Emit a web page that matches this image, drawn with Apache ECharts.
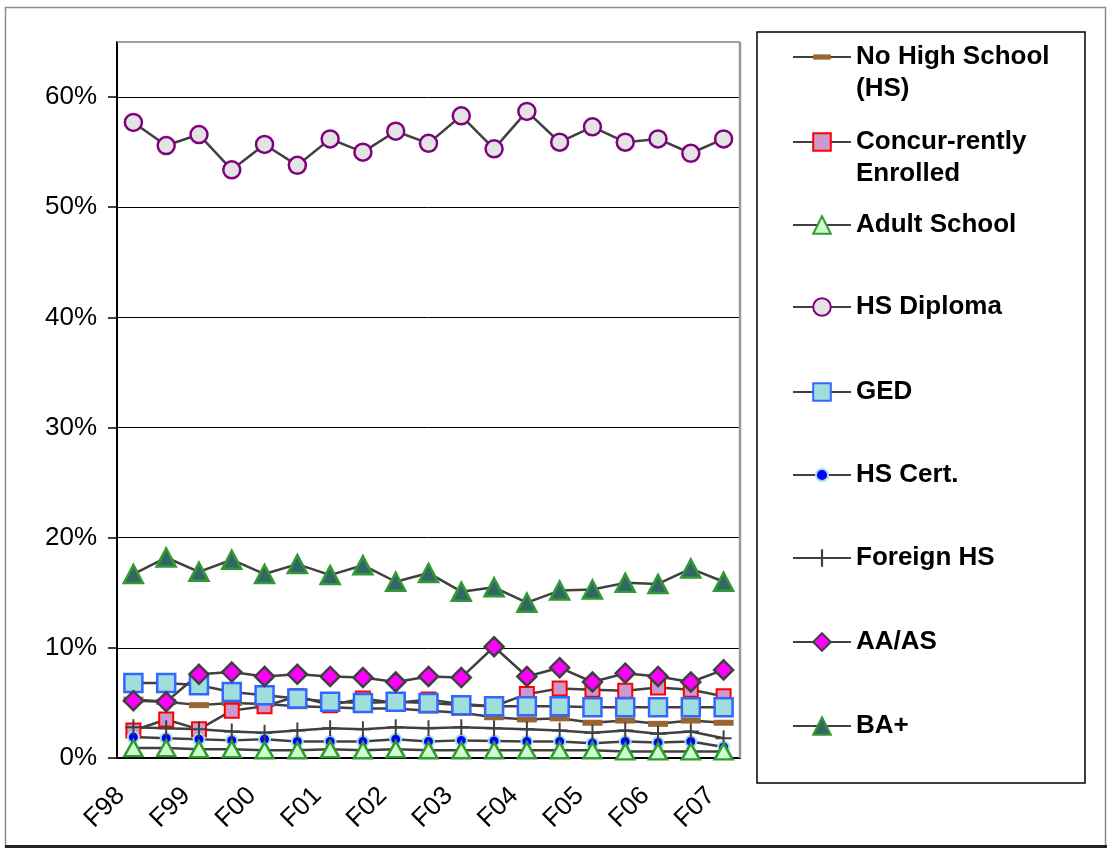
<!DOCTYPE html>
<html>
<head>
<meta charset="utf-8">
<script src="https://cdn.jsdelivr.net/npm/echarts@6/dist/echarts.min.js"></script>
<style>
html, body { margin: 0; padding: 0; background: #fff; }
#chart { width: 1109px; height: 850px; }
</style>
</head>
<body>
<div id="chart"></div>
<script>
// terms: fall / spring, only the fall ones get a label
var terms = ['F98', 'S99', 'F99', 'S00', 'F00', 'S01', 'F01', 'S02', 'F02', 'S03',
             'F03', 'S04', 'F04', 'S05', 'F05', 'S06', 'F06', 'S07', 'F07'];

var noHighSchool = [5.3, 5.1, 4.8, 5.0, 4.9, 4.7, 4.6, 4.5, 4.5, 4.3, 4.1, 3.7, 3.5, 3.6, 3.2, 3.4, 3.1, 3.4, 3.2];
var concurrent   = [2.5, 3.5, 2.6, 4.3, 4.7, 5.6, 4.8, 5.4, 5.0, 5.3, 4.9, 4.7, 5.8, 6.3, 6.2, 6.1, 6.4, 6.2, 5.6];
var adultSchool  = [0.9, 0.9, 0.8, 0.8, 0.7, 0.7, 0.8, 0.7, 0.8, 0.7, 0.7, 0.7, 0.7, 0.7, 0.7, 0.6, 0.6, 0.6, 0.6];
var hsDiploma    = [57.7, 55.6, 56.6, 53.4, 55.7, 53.8, 56.2, 55.0, 56.9, 55.8, 58.3, 55.3, 58.7, 55.9, 57.3, 55.9, 56.2, 54.9, 56.2];
var ged          = [6.8, 6.8, 6.6, 6.0, 5.7, 5.4, 5.1, 5.0, 5.1, 5.0, 4.8, 4.7, 4.7, 4.7, 4.6, 4.6, 4.6, 4.6, 4.6];
var hsCert       = [1.9, 1.8, 1.7, 1.6, 1.7, 1.5, 1.5, 1.5, 1.7, 1.5, 1.6, 1.55, 1.5, 1.5, 1.35, 1.5, 1.4, 1.5, 1.0];
var foreignHS    = [2.8, 2.7, 2.6, 2.4, 2.3, 2.5, 2.7, 2.6, 2.8, 2.7, 2.8, 2.7, 2.6, 2.5, 2.3, 2.5, 2.2, 2.4, 1.8];
var aaAs         = [5.2, 5.1, 7.6, 7.8, 7.4, 7.6, 7.4, 7.3, 6.9, 7.4, 7.3, 10.1, 7.4, 8.2, 6.9, 7.7, 7.4, 6.9, 8.0];
var baPlus       = [16.7, 18.2, 16.9, 18.0, 16.7, 17.6, 16.6, 17.5, 16.0, 16.8, 15.1, 15.5, 14.1, 15.2, 15.3, 15.9, 15.8, 17.2, 16.0];

var yTicks = [0, 10, 20, 30, 40, 50, 60];

var myChart = echarts.init(document.getElementById('chart'));
var font = 'Liberation Sans, Arial, sans-serif';
var plus = 'path://M7,0h2v7h7v2h-7v7h-2v-7h-7v-2h7z';
// the bare moves keep a square box so the dash / dot stay small in the legend too
var dash = 'path://M0,0M10,10M0,3.5h10v3h-10z';
var dot = 'path://M0,0M16,16M2.5,8a5.5,5.5 0 1,0 11,0a5.5,5.5 0 1,0 -11,0z';

// y = centre of the legend row
var rows = [
    {name: 'No High School\n(HS)', data: noHighSchool, symbol: dash, size: 20, fill: '#996633', border: '#996633', bw: 0, y: 57},
    {name: 'Concur-rently\nEnrolled', data: concurrent, symbol: 'rect', size: 14, fill: '#cc99cc', border: '#ff0000', bw: 2, y: 142},
    {name: 'Adult School', data: adultSchool, symbol: 'triangle', size: [18, 16], fill: '#ccffcc', border: '#339933', bw: 2.5, y: 225, z: 3},
    {name: 'HS Diploma', data: hsDiploma, symbol: 'circle', size: 17, fill: '#e3e3e3', border: '#800080', bw: 2.5, y: 307},
    {name: 'GED', data: ged, symbol: 'rect', size: 18, fill: '#a0dede', border: '#3366ff', bw: 2.5, y: 392},
    {name: 'HS Cert.', data: hsCert, symbol: dot, size: 16, fill: '#0000ff', border: '#a0e0e0', bw: 2, y: 475},
    {name: 'Foreign HS', data: foreignHS, symbol: plus, size: 16, fill: '#404040', border: '#404040', bw: 0, y: 558},
    {name: 'AA/AS', data: aaAs, symbol: 'diamond', size: 19, fill: '#ff00ff', border: '#404040', bw: 2.5, y: 642},
    {name: 'BA+', data: baPlus, symbol: 'triangle', size: [19, 18], fill: '#336666', border: '#339933', bw: 2.5, y: 726}
];

var option = {
    animation: false,
    grid: {left: 117, right: 369, top: 42, bottom: 92},
    legend: rows.map(function (r) {
        var two = r.name.indexOf('\n') >= 0;
        return {
            data: [r.name],
            left: 792,
            top: r.y - (two ? 48 : 16),
            orient: 'vertical',
            padding: 0,
            itemWidth: 58,
            itemHeight: 22,
            selectedMode: false,
            // blank first line so the icon sits beside the first line of text
            formatter: two ? function (n) { return ' \n' + n; } : '{name}',
            textStyle: {
                fontSize: 26, fontWeight: 'bold', fontFamily: font, color: '#000', lineHeight: 32
            }
        };
    }),
    xAxis: {
        type: 'category',
        data: terms,
        boundaryGap: true,
        axisLine: {lineStyle: {color: '#000', width: 2}},
        axisTick: {interval: 0, length: 8, lineStyle: {color: '#000', width: 1.5}},
        axisLabel: {
            interval: 1, rotate: 45, margin: 21, padding: [0, 18, 0, 0],
            fontSize: 26, fontFamily: font, color: '#000'
        }
    },
    yAxis: {
        type: 'value',
        min: 0,
        max: 65,
        interval: 10,
        axisLine: {show: true, lineStyle: {color: '#000', width: 2}},
        axisTick: {show: true, length: 9, customValues: yTicks, lineStyle: {color: '#000', width: 1.5}},
        axisLabel: {
            customValues: yTicks, formatter: '{value}%', margin: 20,
            fontSize: 26, fontFamily: font, color: '#000'
        },
        splitLine: {lineStyle: {color: '#000', width: 1}}
    },
    series: rows.map(function (r) {
        return {
            name: r.name,
            type: 'line',
            data: r.data,
            z: r.z || 2,
            symbol: r.symbol,
            symbolSize: r.size,
            showAllSymbol: true,
            lineStyle: {color: '#404040', width: 2.5},
            itemStyle: {color: r.fill, borderColor: r.border, borderWidth: r.bw},
            emphasis: {disabled: true}
        };
    }),
    graphic: [
        {type: 'rect', silent: true, shape: {x: 5.5, y: 7.5, width: 1100, height: 839}, style: {fill: null, stroke: '#8c8c8c', lineWidth: 1.5}},
        {type: 'line', silent: true, shape: {x1: 5, y1: 846.5, x2: 1107, y2: 846.5}, style: {stroke: '#222', lineWidth: 3}},
        {type: 'rect', silent: true, shape: {x: 757, y: 32, width: 328, height: 751}, style: {fill: null, stroke: '#000', lineWidth: 1.5}},
        {type: 'line', silent: true, z: 100, shape: {x1: 117, y1: 42, x2: 740, y2: 42}, style: {stroke: '#808080', lineWidth: 1.5}},
        {type: 'line', silent: true, z: 100, shape: {x1: 740, y1: 42, x2: 740, y2: 758}, style: {stroke: '#999', lineWidth: 2.5}}
    ]
};

myChart.setOption(option);
</script>
</body>
</html>
